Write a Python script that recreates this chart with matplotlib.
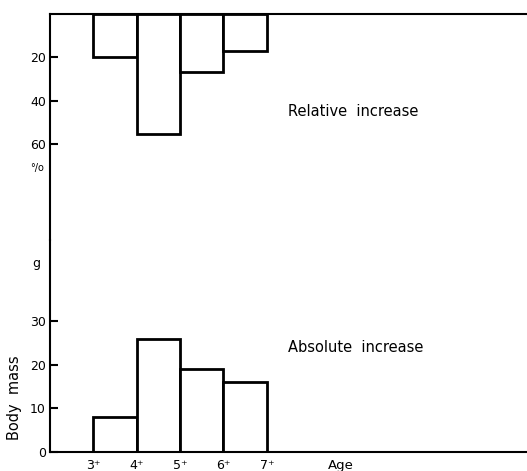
import matplotlib
matplotlib.use("Agg")
import matplotlib.pyplot as plt

# Age classes (bars span from age to age+1)
ages = [3, 4, 5, 6]
age_ticks = [3, 4, 5, 6, 7]
age_labels = ["3⁺", "4⁺", "5⁺", "6⁺", "7⁺"]

# Relative increase in body mass (%)
relative = [20, 55, 26.5, 17]
# Absolute increase in body mass (g)
absolute = [8, 26, 19, 16]

W, H = 527, 471
fig = plt.figure(figsize=(W / 100, H / 100), dpi=100)

left = 50 / W
ax_top = fig.add_axes([left, 1 - 240 / H, 1 - left, 226 / H])
ax_bot = fig.add_axes([left, 1 - 452 / H, 1 - left, 212 / H], sharex=ax_top)

lw = 2.0
fs = 9
fs_lab = 10.5

# top panel: relative increase, hanging down from the top line
ax_top.bar(ages, relative, width=1, align="edge", facecolor="white",
           edgecolor="black", linewidth=lw)
ax_top.set_ylim(104, 0)
ax_top.set_yticks([20, 40, 60])
ax_top.spines["bottom"].set_visible(False)
ax_top.spines["right"].set_visible(False)
ax_top.tick_params(axis="x", bottom=False, labelbottom=False)
ax_top.text(7.5, 45, "Relative  increase", fontsize=fs_lab, va="center", ha="left")

# bottom panel: absolute increase
ax_bot.bar(ages, absolute, width=1, align="edge", facecolor="white",
           edgecolor="black", linewidth=lw)
ax_bot.set_ylim(0, 48.7)
ax_bot.set_yticks([0, 10, 20, 30])
ax_bot.spines["top"].set_visible(False)
ax_bot.spines["right"].set_visible(False)
ax_bot.set_xticks(age_ticks)
ax_bot.set_xticklabels(age_labels)
ax_bot.tick_params(axis="x", length=0, pad=5, labelsize=fs)
ax_bot.text(7.5, 24, "Absolute  increase", fontsize=fs_lab, va="center", ha="left")
ax_bot.text(8.7, -3.0, "Age", fontsize=9.5, va="center", ha="center")

ax_top.set_xlim(2.0, 13.0)

for ax in (ax_top, ax_bot):
    for s in ax.spines.values():
        s.set_linewidth(1.5)
    ax.tick_params(axis="y", direction="in", length=6, width=1.5,
                   labelsize=fs, pad=3)
    ax.patch.set_alpha(0)

fig.text(37 / W, 1 - 168 / H, "°/o", fontsize=7, ha="center", va="center")
fig.text(36 / W, 1 - 263 / H, "g", fontsize=fs, ha="center", va="center")
fig.text(15 / W, 1 - 398 / H, "Body  mass", fontsize=fs_lab, rotation=90,
         ha="center", va="center")

fig.savefig("out.png", dpi=100)
